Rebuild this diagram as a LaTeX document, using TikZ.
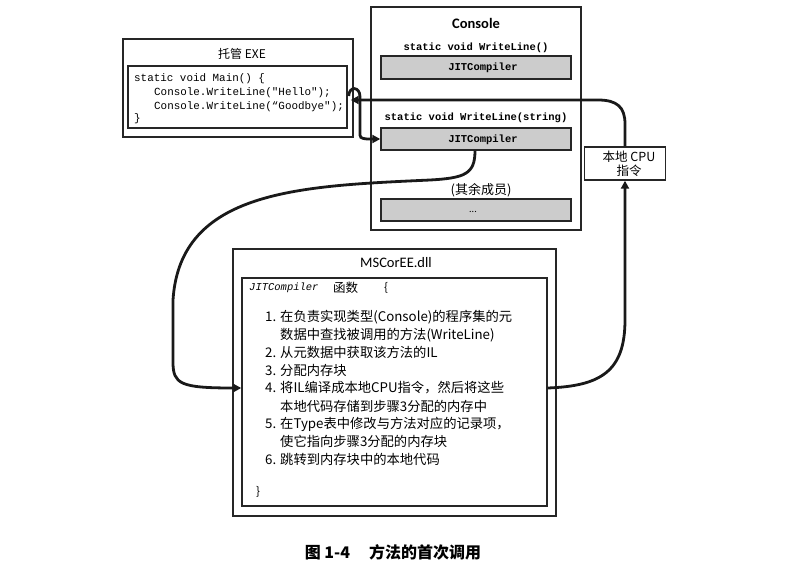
\documentclass[tikz,border=0pt]{standalone}
\usepackage{fontspec}
\setmainfont{Carlito}
\setmonofont{Liberation Mono}
\newfontfamily\cjk{Noto Sans CJK SC}
\usetikzlibrary{arrows.meta,calc}
\begin{document}
\begin{tikzpicture}[x=1pt,y=-1pt,
  box/.style={draw=black!85,line width=1.4pt,inner sep=0pt},
  jitbox/.style={box,fill=black!20,minimum width=190pt,minimum height=22pt},
  codetxt/.style={inner sep=0pt,anchor=west,font=\ttfamily\fontsize{10.9}{12}\selectfont},
  bcode/.style={inner sep=0pt,font=\ttfamily\bfseries\fontsize{10.5}{12}\selectfont},
  item/.style={inner sep=0pt,anchor=west,font=\cjk\fontsize{13.3}{15}\selectfont},
  flow/.style={line width=2.8pt,black!90,-{Triangle[length=8pt,width=8pt]}}
]
\useasboundingbox (0,0) rectangle (796,566);

% managed EXE
\node[box,minimum width=230pt,minimum height=98pt] (exeOuter) at (238,88) {};
\node[inner sep=0pt,font=\cjk\fontsize{12}{14}\selectfont] (exeTitle) at (242,54) {托管 EXE};
\node[box,minimum width=219pt,minimum height=62pt] (exeInner) at (237.5,97) {};
\node[codetxt] (c1) at (134,79) {static void Main() \{};
\node[codetxt] (c2) at (154,93) {Console.WriteLine("Hello");};
\node[codetxt] (c3) at (154,107) {Console.WriteLine(“Goodbye");};
\node[codetxt] (c4) at (134,119) {\}};

% Console
\node[box,minimum width=210pt,minimum height=223pt] (console) at (476,118.5) {};
\node[inner sep=0pt,font=\bfseries\fontsize{14.5}{16}\selectfont] (consoleTitle) at (476,23) {Console};
\node[bcode] (m1) at (476,48) {static void WriteLine()};
\node[jitbox,minimum height=23pt] (jit1) at (476,67.5) {};
\node[bcode] (jit1t) at (483,68) {JITCompiler};
\node[bcode] (m2) at (476,118) {static void WriteLine(string)};
\node[jitbox] (jit2) at (476,139) {};
\node[bcode] (jit2t) at (483,139.5) {JITCompiler};
\node[inner sep=0pt,font=\cjk\fontsize{13}{15}\selectfont] (rest) at (481,190) {(其余成员)};
\node[jitbox] (dots) at (476,210) {};
\node[inner sep=0pt,font=\fontsize{10}{12}\selectfont] (dotst) at (473,212) {...};

% native CPU
\node[box,minimum width=81pt,minimum height=33pt] (native) at (625,163.5) {};
\node[inner sep=0pt,align=center,font=\cjk\fontsize{12.5}{13.5}\selectfont] (nativet) at (629,164) {本地 CPU\\指令};

% MSCorEE
\node[box,minimum width=323pt,minimum height=267pt] (msOuter) at (394.5,382.5) {};
\node[inner sep=0pt,font=\fontsize{14.5}{16}\selectfont] (msTitle) at (396,263) {MSCorEE.dll};
\node[box,minimum width=305pt,minimum height=228pt] (msInner) at (394.5,392) {};
\node[codetxt,font=\ttfamily\itshape\fontsize{10.5}{11}\selectfont] (jf) at (249,288) {JITCompiler};
\node[item,font=\cjk\fontsize{12.5}{14}\selectfont] (jf2) at (333,288) {函数};
\node[item,font=\cjk\fontsize{11.5}{14}\selectfont] (jf3) at (384,288) {\{};
\node[item] (i1) at (265,317) {1. 在负责实现类型(Console)的程序集的元};
\node[item] (i1b) at (280,335) {数据中查找被调用的方法(WriteLine)};
\node[item] (i2) at (265,352) {2. 从元数据中获取该方法的IL};
\node[item] (i3) at (265,370) {3. 分配内存块};
\node[item] (i4) at (265,388) {4. 将IL编译成本地CPU指令，然后将这些};
\node[item] (i4b) at (280,406) {本地代码存储到步骤3分配的内存中};
\node[item] (i5) at (265,424) {5. 在Type表中修改与方法对应的记录项，};
\node[item] (i5b) at (280,441) {使它指向步骤3分配的内存块};
\node[item] (i6) at (265,459) {6. 跳转到内存块中的本地代码};
\node[item,font=\cjk\fontsize{11.5}{14}\selectfont] (close) at (256,492) {\}};

% caption
\node[inner sep=0pt,font=\cjk\bfseries\fontsize{16}{18}\selectfont] (caption) at (393,552) {图 1-4\hspace{1.2em}方法的首次调用};

% connectors
\coordinate (callStart) at ($(exeInner.east)+(1,-1)$);
\coordinate (retEnd) at ($(exeInner.east)+(3,3)$);
\coordinate (msIn) at ($(msInner.west)+(0,-4)$);
\coordinate (msOut) at ($(msInner.east)+(0,-4)$);
\coordinate (jitOut) at ($(jit2.south)+(-1,0)$);
\draw[flow] (callStart) .. controls (349,86) and (360,86) .. (360,97) -- (360,132) .. controls (360,138) .. (367,139) -- (jit2.west);
\draw[flow] (native.north) -- (625,124) .. controls (625,107) and (617,100) .. (598,100) -- (retEnd);
\draw[flow] (jitOut) .. controls (475,174) and (465,178) .. (430,180)
   .. controls (300,186) and (180,190) .. (173,300) -- (173,362)
   .. controls (173,384) and (180,388) .. (msIn);
\draw[flow] (msOut) .. controls (600,386) and (625,372) .. (625,320) -- (native.south);
\end{tikzpicture}
\end{document}
